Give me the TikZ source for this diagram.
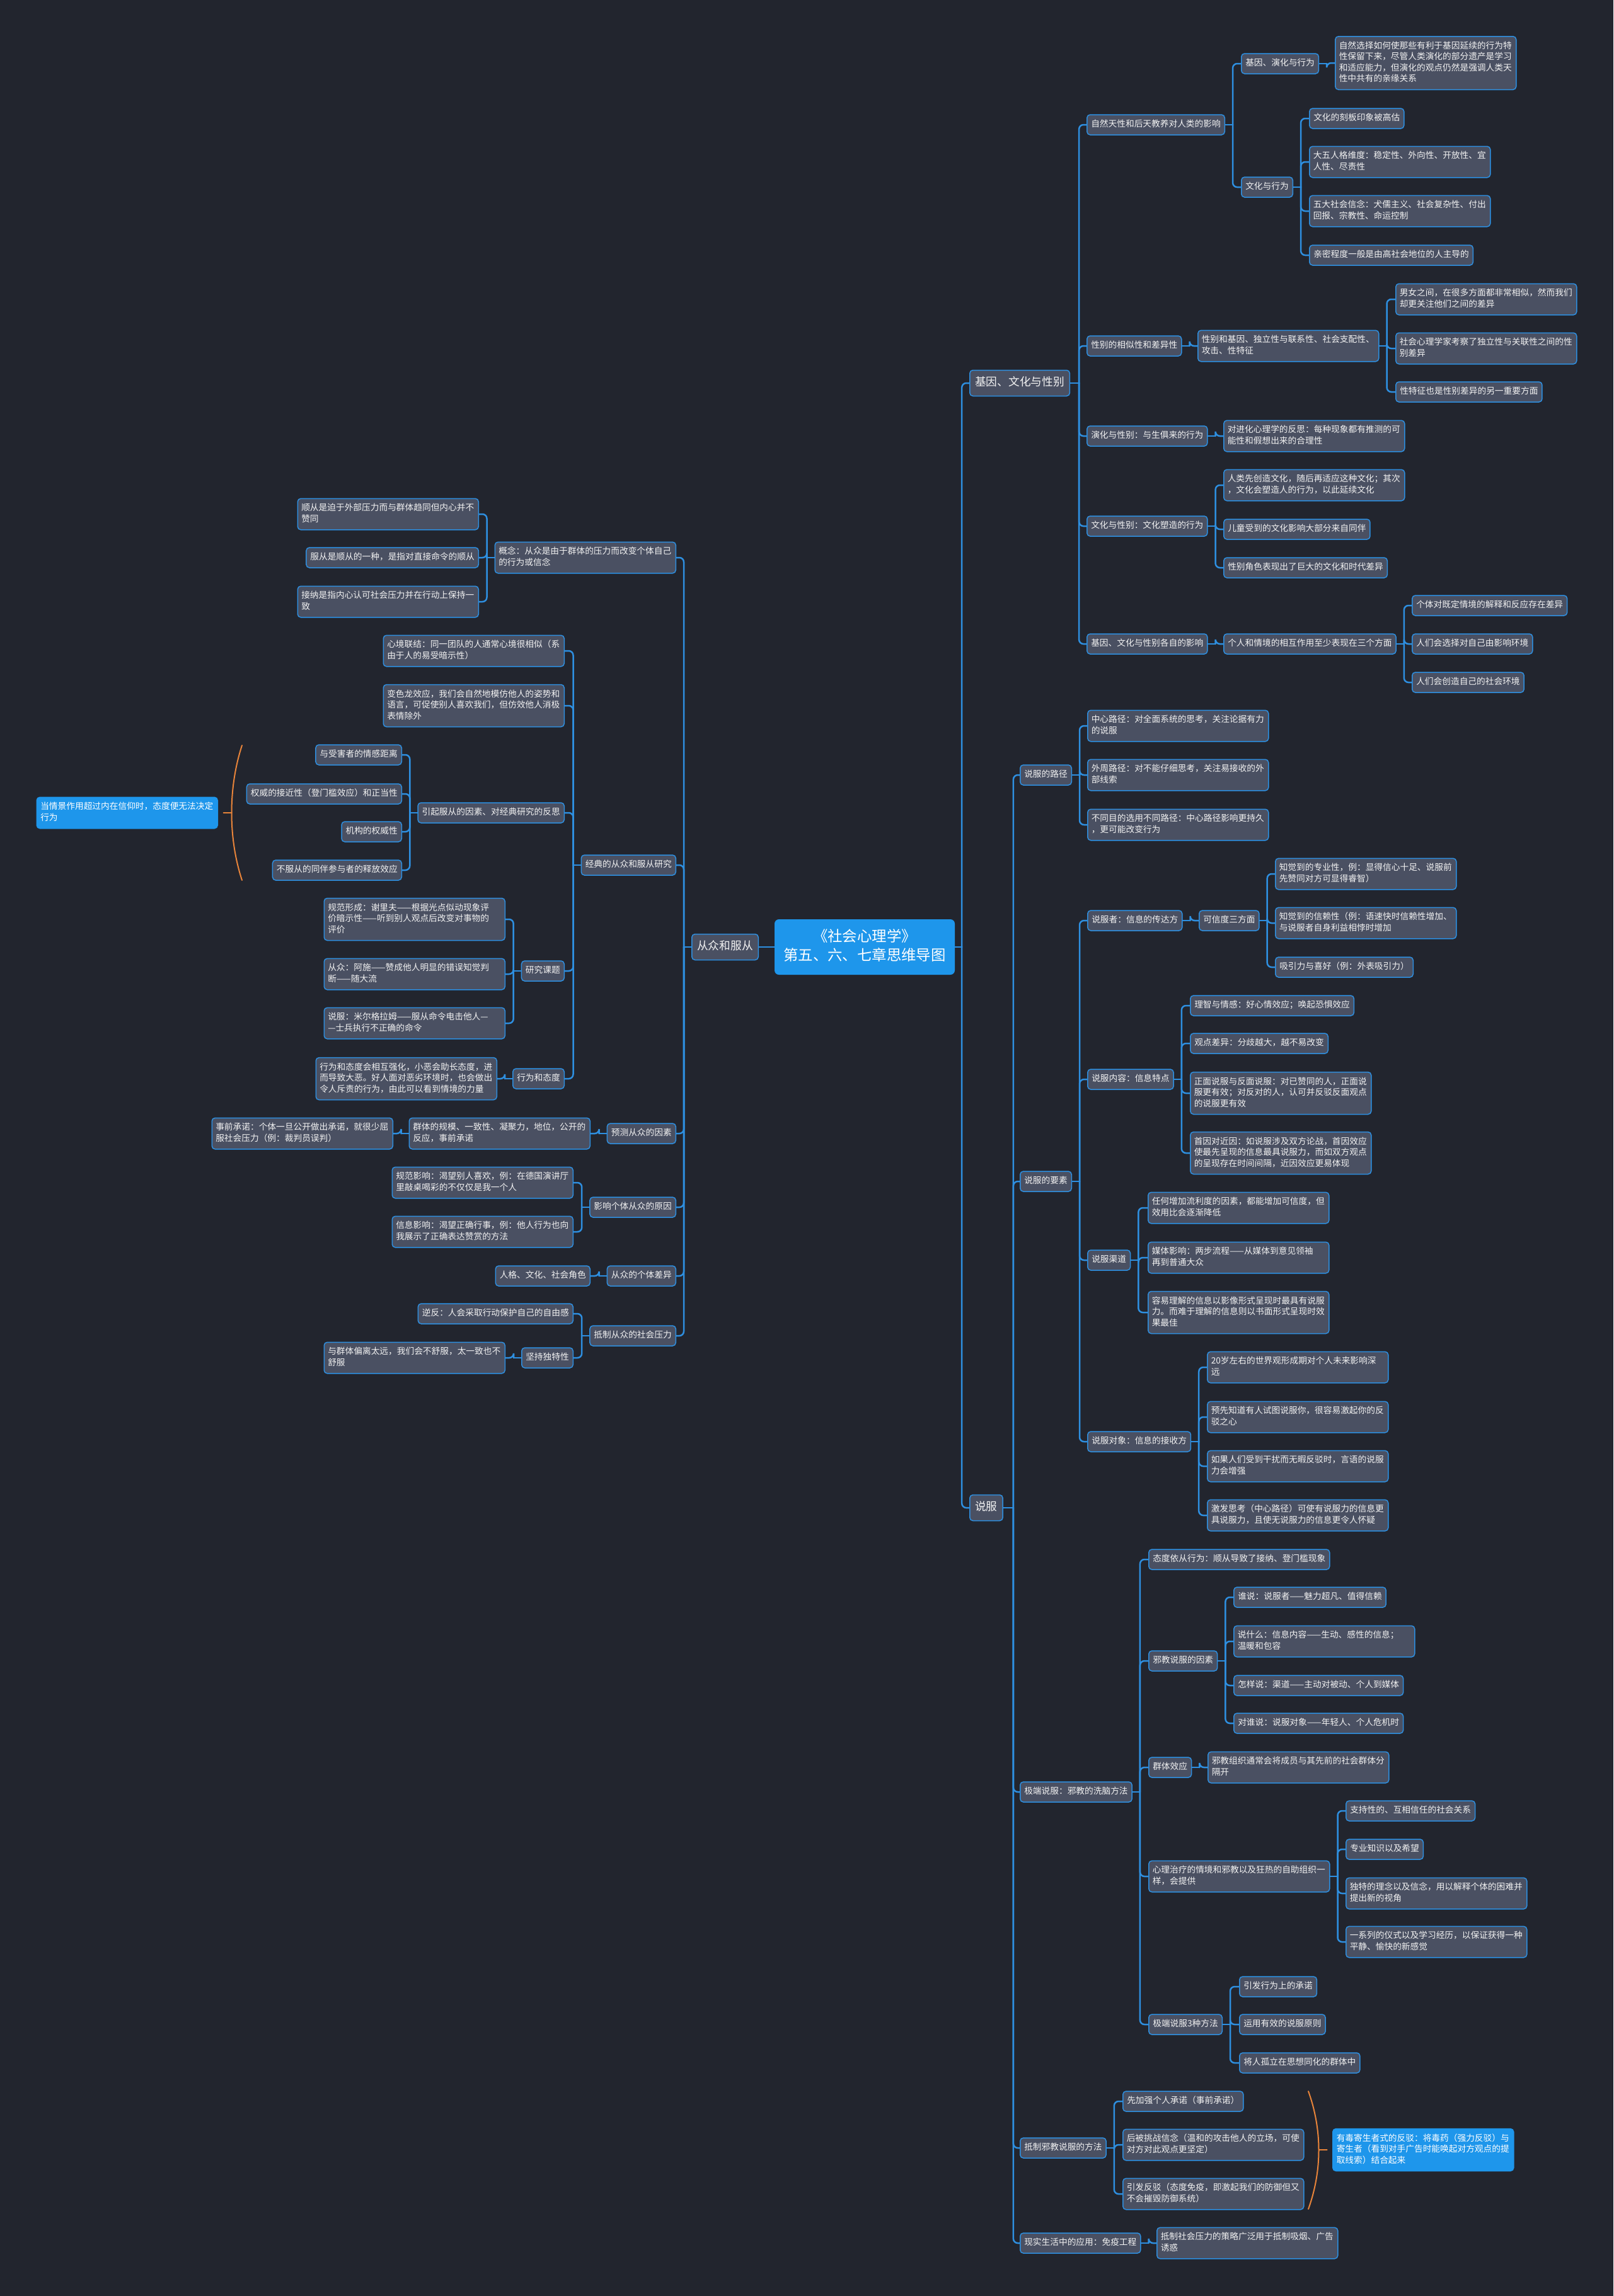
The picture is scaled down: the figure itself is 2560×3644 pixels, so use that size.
\documentclass[tikz,border=0pt]{standalone}
\usepackage{fontspec}
\setmainfont{Noto Sans CJK SC}
\usetikzlibrary{calc}
\definecolor{bgc}{HTML}{22252E}
\definecolor{nodefill}{HTML}{4A5062}
\definecolor{lineblue}{HTML}{2E8FE0}
\definecolor{hiblue}{HTML}{1E96EB}
\definecolor{txt}{HTML}{F2F2F2}
\definecolor{bracec}{HTML}{E8843A}
\pgfdeclarelayer{bgfill}
\pgfdeclarelayer{links}
\pgfsetlayers{bgfill,links,main}
\tikzset{
 nd/.style={draw=lineblue, line width=1.5pt, fill=nodefill, rounded corners=5pt, text=txt,
   font=\fontsize{13.7pt}{17.5pt}\selectfont, inner xsep=6.5pt, inner ysep=7.25pt, align=left,
   execute at begin node=\strut, execute at end node=\strut},
 ndw/.style={nd, text width=275pt, inner xsep=6pt},
 topic/.style={nd, font=\fontsize{17.7pt}{22pt}\selectfont, inner xsep=8.5pt, inner ysep=9.5pt},
 rootn/.style={fill=hiblue, rounded corners=7pt, text=white, font=\fontsize{23.4pt}{30pt}\selectfont,
   align=center, text width=260pt, inner xsep=13pt, inner ysep=14pt,
   execute at begin node=\strut, execute at end node=\strut},
 summ/.style={ndw, fill=hiblue, draw=hiblue, text=white},
 conn/.style={draw=lineblue, line width=2.5pt, line cap=round},
 bracel/.style={draw=bracec, line width=2pt, line cap=round},
}
\newcommand\RCon[3][12pt]{\draw[conn] (#2.east) -- ++(#1,0); \draw[conn,rounded corners=7pt] ([xshift=#1]#2.east) |- (#3.west);}
\newcommand\LCon[3][12pt]{\draw[conn] (#2.west) -- ++(-#1,0); \draw[conn,rounded corners=7pt] ([xshift=-#1]#2.west) |- (#3.east);}
\begin{document}
\begin{tikzpicture}[x=1pt,y=-1pt]
\begin{pgfonlayer}{bgfill}
\fill[bgc] (0,0) rectangle (2560,3644);
\end{pgfonlayer}
\useasboundingbox (0,0) rectangle (2560,3644);

% root
\node[rootn] (c) at (1372,1503) {《社会心理学》\\第五、六、七章思维导图};
\node[topic,anchor=west] (g0) at (1538,608) {基因、文化与性别};
\node[topic,anchor=west] (s0) at (1538,2393) {说服};
\node[topic,anchor=east] (L0) at (1204,1503) {从众和服从};

% ===== gene branch
\node[nd,anchor=west] (g1) at (1724,198) {自然天性和后天教养对人类的影响};
\node[nd,anchor=west] (g11) at (1969,101) {基因、演化与行为};
\node[ndw,anchor=west] (g111) at (2118,100) {自然选择如何使那些有利于基因延续的行为特\\性保留下来，尽管人类演化的部分遗产是学习\\和适应能力，但演化的观点仍然是强调人类天\\性中共有的亲缘关系};
\node[nd,anchor=west] (g12) at (1969,297) {文化与行为};
\node[nd,anchor=west] (g121) at (2077,188) {文化的刻板印象被高估};
\node[ndw,anchor=west] (g122) at (2077,257) {大五人格维度：稳定性、外向性、开放性、宜\\人性、尽责性};
\node[ndw,anchor=west] (g123) at (2077,335) {五大社会信念：犬儒主义、社会复杂性、付出\\回报、宗教性、命运控制};
\node[nd,anchor=west] (g124) at (2077,405) {亲密程度一般是由高社会地位的人主导的};

\node[nd,anchor=west] (g2) at (1724,549) {性别的相似性和差异性};
\node[ndw,anchor=west] (g21) at (1900,549) {性别和基因、独立性与联系性、社会支配性、\\攻击、性特征};
\node[ndw,anchor=west] (g211) at (2214,475) {男女之间，在很多方面都非常相似，然而我们\\却更关注他们之间的差异};
\node[ndw,anchor=west] (g212) at (2214,553) {社会心理学家考察了独立性与关联性之间的性\\别差异};
\node[nd,anchor=west] (g213) at (2214,622) {性特征也是性别差异的另一重要方面};

\node[nd,anchor=west] (g3) at (1724,692) {演化与性别：与生俱来的行为};
\node[ndw,anchor=west] (g31) at (1941,692) {对进化心理学的反思：每种现象都有推测的可\\能性和假想出来的合理性};

\node[nd,anchor=west] (g4) at (1724,835) {文化与性别：文化塑造的行为};
\node[ndw,anchor=west] (g41) at (1941,770) {人类先创造文化，随后再适应这种文化；其次\\，文化会塑造人的行为，以此延续文化};
\node[nd,anchor=west] (g42) at (1941,840) {儿童受到的文化影响大部分来自同伴};
\node[nd,anchor=west] (g43) at (1941,901) {性别角色表现出了巨大的文化和时代差异};

\node[nd,anchor=west] (g5) at (1724,1022) {基因、文化与性别各自的影响};
\node[nd,anchor=west] (g51) at (1941,1022) {个人和情境的相互作用至少表现在三个方面};
\node[nd,anchor=west] (g511) at (2240,961) {个体对既定情境的解释和反应存在差异};
\node[nd,anchor=west] (g512) at (2240,1022) {人们会选择对自己由影响环境};
\node[nd,anchor=west] (g513) at (2240,1083) {人们会创造自己的社会环境};

% ===== persuasion branch
\node[nd,anchor=west] (s1) at (1618,1230) {说服的路径};
\node[ndw,anchor=west] (s11) at (1725,1152) {中心路径：对全面系统的思考，关注论据有力\\的说服};
\node[ndw,anchor=west] (s12) at (1725,1230) {外周路径：对不能仔细思考，关注易接收的外\\部线索};
\node[ndw,anchor=west] (s13) at (1725,1309) {不同目的选用不同路径：中心路径影响更持久\\，更可能改变行为};

\node[nd,anchor=west] (s2) at (1618,1875) {说服的要素};
\node[nd,anchor=west] (s21) at (1725,1461) {说服者：信息的传达方};
\node[nd,anchor=west] (s211) at (1902,1461) {可信度三方面};
\node[ndw,anchor=west] (s2111) at (2023,1387) {知觉到的专业性，例：显得信心十足、说服前\\先赞同对方可显得睿智）};
\node[ndw,anchor=west] (s2112) at (2023,1465) {知觉到的信赖性（例：语速快时信赖性增加、\\与说服者自身利益相悖时增加};
\node[nd,anchor=west] (s2113) at (2023,1535) {吸引力与喜好（例：外表吸引力）};

\node[nd,anchor=west] (s22) at (1725,1713) {说服内容：信息特点};
\node[nd,anchor=west] (s221) at (1888,1596) {理智与情感：好心情效应；唤起恐惧效应};
\node[nd,anchor=west] (s222) at (1888,1656) {观点差异：分歧越大，越不易改变};
\node[ndw,anchor=west] (s223) at (1888,1735) {正面说服与反面说服：对已赞同的人，正面说\\服更有效；对反对的人，认可并反驳反面观点\\的说服更有效};
\node[ndw,anchor=west] (s224) at (1888,1830) {首因对近因：如说服涉及双方论战，首因效应\\使最先呈现的信息最具说服力，而如双方观点\\的呈现存在时间间隔，近因效应更易体现};

\node[nd,anchor=west] (s23) at (1725,2000) {说服渠道};
\node[ndw,anchor=west] (s231) at (1821,1917) {任何增加流利度的因素，都能增加可信度，但\\效用比会逐渐降低};
\node[ndw,anchor=west] (s232) at (1821,1996) {媒体影响：两步流程——从媒体到意见领袖\\再到普通大众};
\node[ndw,anchor=west] (s233) at (1821,2083) {容易理解的信息以影像形式呈现时最具有说服\\力。而难于理解的信息则以书面形式呈现时效\\果最佳};

\node[nd,anchor=west] (s24) at (1725,2288) {说服对象：信息的接收方};
\node[ndw,anchor=west] (s241) at (1915,2170) {20岁左右的世界观形成期对个人未来影响深\\远};
\node[ndw,anchor=west] (s242) at (1915,2249) {预先知道有人试图说服你，很容易激起你的反\\驳之心};
\node[ndw,anchor=west] (s243) at (1915,2327) {如果人们受到干扰而无暇反驳时，言语的说服\\力会增强};
\node[ndw,anchor=west] (s244) at (1915,2405) {激发思考（中心路径）可使有说服力的信息更\\具说服力，且使无说服力的信息更令人怀疑};

\node[nd,anchor=west] (s3) at (1618,2844) {极端说服：邪教的洗脑方法};
\node[nd,anchor=west] (s31) at (1822,2475) {态度依从行为：顺从导致了接纳、登门槛现象};
\node[nd,anchor=west] (s32) at (1822,2636) {邪教说服的因素};
\node[nd,anchor=west] (s321) at (1957,2535) {谁说：说服者——魅力超凡、值得信赖};
\node[ndw,anchor=west] (s322) at (1957,2605) {说什么：信息内容——生动、感性的信息；\\温暖和包容};
\node[nd,anchor=west] (s323) at (1957,2675) {怎样说：渠道——主动对被动、个人到媒体};
\node[nd,anchor=west] (s324) at (1957,2735) {对谁说：说服对象——年轻人、个人危机时};
\node[nd,anchor=west] (s33) at (1822,2805) {群体效应};
\node[ndw,anchor=west] (s331) at (1916,2805) {邪教组织通常会将成员与其先前的社会群体分\\隔开};
\node[ndw,anchor=west] (s34) at (1822,2978) {心理治疗的情境和邪教以及狂热的自助组织一\\样，会提供};
\node[nd,anchor=west] (s341) at (2135,2874) {支持性的、互相信任的社会关系};
\node[nd,anchor=west] (s342) at (2135,2935) {专业知识以及希望};
\node[ndw,anchor=west] (s343) at (2135,3005) {独特的理念以及信念，用以解释个体的困难并\\提出新的视角};
\node[ndw,anchor=west] (s344) at (2135,3082) {一系列的仪式以及学习经历，以保证获得一种\\平静、愉快的新感觉};
\node[nd,anchor=west] (s35) at (1822,3213) {极端说服3种方法};
\node[nd,anchor=west] (s351) at (1966,3153) {引发行为上的承诺};
\node[nd,anchor=west] (s352) at (1966,3213) {运用有效的说服原则};
\node[nd,anchor=west] (s353) at (1966,3274) {将人孤立在思想同化的群体中};

\node[nd,anchor=west] (s4) at (1618,3409) {抵制邪教说服的方法};
\node[nd,anchor=west] (s41) at (1781,3335) {先加强个人承诺（事前承诺）};
\node[ndw,anchor=west] (s42) at (1781,3404) {后被挑战信念（温和的攻击他人的立场，可使\\对方对此观点更坚定）};
\node[ndw,anchor=west] (s43) at (1781,3482) {引发反驳（态度免疫，即激起我们的防御但又\\不会摧毁防御系统）};
\node[summ,anchor=west] (s4sum) at (2114,3412) {有毒寄生者式的反驳：将毒药（强力反驳）与\\寄生者（看到对手广告时能唤起对方观点的提\\取线索）结合起来};

\node[nd,anchor=west] (s5) at (1618,3560) {现实生活中的应用：免疫工程};
\node[ndw,anchor=west] (s51) at (1835,3560) {抵制社会压力的策略广泛用于抵制吸烟、广告\\诱惑};

% ===== conformity branch (left)
\node[ndw,anchor=east] (l1) at (1073,885) {概念：从众是由于群体的压力而改变个体自己\\的行为或信念};
\node[ndw,anchor=east] (l11) at (760,816) {顺从是迫于外部压力而与群体趋同但内心并不\\赞同};
\node[nd,anchor=east] (l12) at (760,885) {服从是顺从的一种，是指对直接命令的顺从};
\node[ndw,anchor=east] (l13) at (760,955) {接纳是指内心认可社会压力并在行动上保持一\\致};

\node[nd,anchor=east] (l2) at (1073,1373) {经典的从众和服从研究};
\node[ndw,anchor=east] (l21) at (896,1033) {心境联结：同一团队的人通常心境很相似（系\\由于人的易受暗示性）};
\node[ndw,anchor=east] (l22) at (896,1120) {变色龙效应，我们会自然地模仿他人的姿势和\\语言，可促使别人喜欢我们，但仿效他人消极\\表情除外};
\node[nd,anchor=east] (l23) at (896,1290) {引起服从的因素、对经典研究的反思};
\node[nd,anchor=east] (l231) at (638,1198) {与受害者的情感距离};
\node[nd,anchor=east] (l232) at (638,1260) {权威的接近性（登门槛效应）和正当性};
\node[nd,anchor=east] (l233) at (638,1320) {机构的权威性};
\node[nd,anchor=east] (l234) at (638,1381) {不服从的同伴参与者的释放效应};
\node[summ,anchor=east] (l23sum) at (346,1290) {当情景作用超过内在信仰时，态度便无法决定\\行为};
\node[nd,anchor=east] (l24) at (896,1541) {研究课题};
\node[ndw,anchor=east] (l241) at (802,1459) {规范形成：谢里夫——根据光点似动现象评\\价暗示性——听到别人观点后改变对事物的\\评价};
\node[ndw,anchor=east] (l242) at (802,1546) {从众：阿施——赞成他人明显的错误知觉判\\断——随大流};
\node[ndw,anchor=east] (l243) at (802,1624) {说服：米尔格拉姆——服从命令电击他人—\\—士兵执行不正确的命令};
\node[nd,anchor=east] (l25) at (896,1712) {行为和态度};
\node[ndw,anchor=east] (l251) at (789,1712) {行为和态度会相互强化，小恶会助长态度，进\\而导致大恶。好人面对恶劣环境时，也会做出\\令人斥责的行为，由此可以看到情境的力量};

\node[nd,anchor=east] (l3) at (1073,1799) {预测从众的因素};
\node[ndw,anchor=east] (l31) at (937,1799) {群体的规模、一致性、凝聚力，地位，公开的\\反应，事前承诺};
\node[ndw,anchor=east] (l311) at (624,1799) {事前承诺：个体一旦公开做出承诺，就很少屈\\服社会压力（例：裁判员误判）};

\node[nd,anchor=east] (l4) at (1073,1916) {影响个体从众的原因};
\node[ndw,anchor=east] (l41) at (910,1877) {规范影响：渴望别人喜欢，例：在德国演讲厅\\里敲桌喝彩的不仅仅是我一个人};
\node[ndw,anchor=east] (l42) at (910,1955) {信息影响：渴望正确行事，例：他人行为也向\\我展示了正确表达赞赏的方法};

\node[nd,anchor=east] (l5) at (1073,2025) {从众的个体差异};
\node[nd,anchor=east] (l51) at (937,2025) {人格、文化、社会角色};

\node[nd,anchor=east] (l6) at (1073,2120) {抵制从众的社会压力};
\node[nd,anchor=east] (l61) at (910,2085) {逆反：人会采取行动保护自己的自由感};
\node[nd,anchor=east] (l62) at (910,2155) {坚持独特性};
\node[ndw,anchor=east] (l621) at (802,2155) {与群体偏离太远，我们会不舒服，太一致也不\\舒服};

% braces
\coordinate (lbt) at (384,1183);
\coordinate (lbb) at (384,1397);
\coordinate (lbm) at (367.5,1290);
\draw[bracel] (lbt) .. controls (362,1250) and (362,1330) .. (lbb);
\draw[bracel] (lbm) -- ++(-13,0);
\coordinate (rbt) at (2076,3319);
\coordinate (rbb) at (2076,3506);
\coordinate (rbm) at (2092.5,3412);
\draw[bracel] (rbt) .. controls (2098,3380) and (2098,3445) .. (rbb);
\draw[bracel] (rbm) -- ++(13,0);

\begin{pgfonlayer}{links}
\RCon[11pt]{c}{g0}
\RCon[11pt]{c}{s0}
\draw[conn] (c.west) -- (L0.east);
\foreach \k in {g1,g2,g3,g4,g5} {\RCon[14pt]{g0}{\k}}
\RCon{g1}{g11} \RCon{g1}{g12}
\RCon{g11}{g111}
\foreach \k in {g121,g122,g123,g124} {\RCon{g12}{\k}}
\RCon{g2}{g21}
\foreach \k in {g211,g212,g213} {\RCon{g21}{\k}}
\RCon{g3}{g31}
\foreach \k in {g41,g42,g43} {\RCon{g4}{\k}}
\RCon{g5}{g51}
\foreach \k in {g511,g512,g513} {\RCon{g51}{\k}}

\foreach \k in {s1,s2,s3,s4,s5} {\RCon[16pt]{s0}{\k}}
\foreach \k in {s11,s12,s13} {\RCon{s1}{\k}}
\foreach \k in {s21,s22,s23,s24} {\RCon{s2}{\k}}
\RCon{s21}{s211}
\foreach \k in {s2111,s2112,s2113} {\RCon{s211}{\k}}
\foreach \k in {s221,s222,s223,s224} {\RCon{s22}{\k}}
\foreach \k in {s231,s232,s233} {\RCon{s23}{\k}}
\foreach \k in {s241,s242,s243,s244} {\RCon{s24}{\k}}
\foreach \k in {s31,s32,s33,s34,s35} {\RCon{s3}{\k}}
\foreach \k in {s321,s322,s323,s324} {\RCon{s32}{\k}}
\RCon{s33}{s331}
\foreach \k in {s341,s342,s343,s344} {\RCon{s34}{\k}}
\foreach \k in {s351,s352,s353} {\RCon{s35}{\k}}
\foreach \k in {s41,s42,s43} {\RCon{s4}{\k}}
\RCon{s5}{s51}

\foreach \k in {l1,l2,l3,l4,l5,l6} {\LCon{L0}{\k}}
\foreach \k in {l11,l12,l13} {\LCon{l1}{\k}}
\foreach \k in {l21,l22,l23,l24,l25} {\LCon{l2}{\k}}
\foreach \k in {l231,l232,l233,l234} {\LCon{l23}{\k}}
\foreach \k in {l241,l242,l243} {\LCon{l24}{\k}}
\LCon{l25}{l251}
\LCon{l3}{l31}
\LCon{l31}{l311}
\foreach \k in {l41,l42} {\LCon{l4}{\k}}
\LCon{l5}{l51}
\foreach \k in {l61,l62} {\LCon{l6}{\k}}
\LCon{l62}{l621}
\end{pgfonlayer}
\end{tikzpicture}
\end{document}
